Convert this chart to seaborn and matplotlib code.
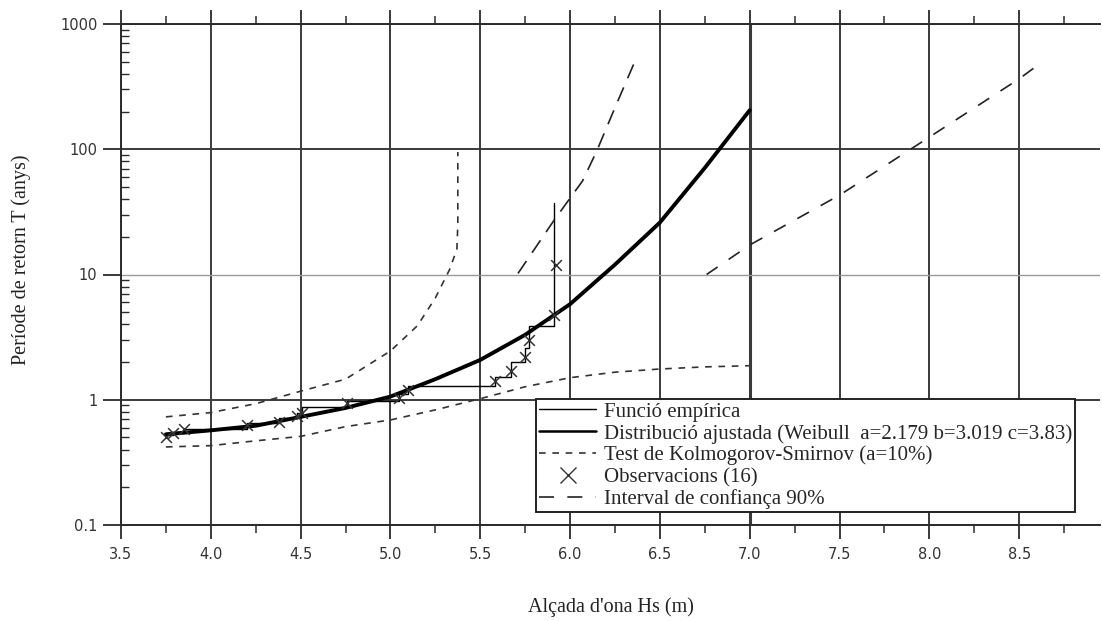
import numpy as np
import pandas as pd
import matplotlib
matplotlib.use("Agg")
import matplotlib.pyplot as plt
import seaborn as sns
from matplotlib.ticker import FixedLocator, MultipleLocator, LogLocator, NullFormatter
from matplotlib.lines import Line2D

# ---------------- data ----------------
obs_hs = [3.75, 3.79, 3.85, 4.20, 4.38, 4.48, 4.51, 4.76, 5.05, 5.10,
          5.58, 5.67, 5.75, 5.77, 5.91, 5.92]
obs_T = [0.50, 0.54, 0.58, 0.63, 0.67, 0.74, 0.79, 0.94, 1.03, 1.20,
         1.40, 1.71, 2.21, 3.00, 4.75, 11.9]

emp_hs = [3.75, 3.79, 3.85, 4.20, 4.38, 4.48, 4.51, 4.76, 5.05, 5.10,
          5.58, 5.67, 5.75, 5.77, 5.91, 5.91]
emp_T = [0.52, 0.55, 0.58, 0.65, 0.71, 0.78, 0.88, 0.97, 1.11, 1.29,
         1.53, 2.02, 2.60, 3.90, 7.75, 37.0]

fit_hs = [3.75, 4.0, 4.25, 4.5, 4.75, 5.0, 5.25, 5.5, 5.75, 6.0, 6.25, 6.5, 6.75, 7.0]
fit_T = [0.53, 0.57, 0.62, 0.73, 0.86, 1.06, 1.46, 2.08, 3.3, 5.8, 12.0, 26.0, 71.0, 205.0]

ks_up_hs = [3.75, 4.0, 4.25, 4.5, 4.75, 5.0, 5.15, 5.25, 5.33, 5.37, 5.375, 5.375]
ks_up_T = [0.73, 0.79, 0.93, 1.17, 1.46, 2.45, 3.9, 6.5, 11.0, 16.0, 25.0, 95.0]

ks_lo_hs = [3.75, 4.0, 4.25, 4.5, 4.75, 5.0, 5.25, 5.5, 5.75, 6.0, 6.25, 6.5, 6.75, 7.0]
ks_lo_T = [0.42, 0.43, 0.47, 0.51, 0.61, 0.69, 0.83, 1.02, 1.27, 1.50, 1.66, 1.76, 1.83, 1.87]

ci_up_hs = [5.71, 5.91, 6.07, 6.15, 6.25, 6.36]
ci_up_T = [10.2, 27.0, 56.0, 98.0, 215.0, 500.0]

ci_lo_hs = [6.76, 7.0, 7.5, 8.0, 8.5, 8.63]
ci_lo_T = [10.0, 17.2, 43.0, 125.0, 365.0, 500.0]

x_ticks = [3.5, 4.0, 4.5, 5.0, 5.5, 6.0, 6.5, 7.0, 7.5, 8.0, 8.5]
x_ticklabels = ["3.5", "4.0", "4.5", "5.0", "5.5", "6.0", "6.5", "7.0", "7.5", "8.0", "8.5"]
y_ticks = [0.1, 1, 10, 100, 1000]
y_ticklabels = ["0.1", "1", "10", "100", "1000"]

labels = ["Funció empírica",
          "Distribució ajustada (Weibull  a=2.179 b=3.019 c=3.83)",
          "Test de Kolmogorov-Smirnov (a=10%)",
          "Observacions (16)",
          "Interval de confiança 90%"]

# ---------------- style ----------------
sns.set_theme(style="white")
plt.rcParams["font.family"] = ["DejaVu Sans"]
serif = "Liberation Serif"
dark = "#2b2b2b"

fig = plt.figure(figsize=(11.02, 6.21), dpi=100)
W, H = 1102, 621
ax = fig.add_axes([121 / W, 1 - 525 / H, (1100 - 121) / W, (525 - 24) / H])
ax.set_yscale("log")

# ---------------- marks ----------------
sns.lineplot(x=emp_hs, y=emp_T, ax=ax, color="black", lw=1.0,
             drawstyle="steps-post", sort=False, estimator=None)
sns.lineplot(x=fit_hs, y=fit_T, ax=ax, color="black", lw=2.8,
             sort=False, estimator=None)
sns.lineplot(x=ks_up_hs, y=ks_up_T, ax=ax, color="#333333", lw=1.2,
             sort=False, estimator=None)
ax.lines[-1].set_dashes([4, 4])
sns.lineplot(x=ks_lo_hs, y=ks_lo_T, ax=ax, color="#333333", lw=1.2,
             sort=False, estimator=None)
ax.lines[-1].set_dashes([4, 4])
sns.lineplot(x=ci_up_hs, y=ci_up_T, ax=ax, color="#222222", lw=1.2,
             sort=False, estimator=None)
ax.lines[-1].set_dashes([9, 6])
sns.lineplot(x=ci_lo_hs, y=ci_lo_T, ax=ax, color="#222222", lw=1.2,
             sort=False, estimator=None)
ax.lines[-1].set_dashes([8, 8])
sns.scatterplot(x=obs_hs, y=obs_T, ax=ax, marker="x", s=60, color="#333333",
                linewidth=1.1, zorder=5)

# ---------------- axes ----------------
ax.set_xlim(3.5, 8.95)
ax.set_ylim(0.1, 1000)
ax.xaxis.set_major_locator(FixedLocator(x_ticks))
ax.set_xticklabels(x_ticklabels)
ax.xaxis.set_minor_locator(MultipleLocator(0.25))
ax.yaxis.set_major_locator(FixedLocator(y_ticks))
ax.set_yticklabels(y_ticklabels)
ax.yaxis.set_minor_locator(LogLocator(base=10, subs=np.arange(2, 10)))
ax.yaxis.set_minor_formatter(NullFormatter())

ax.tick_params(axis="x", which="major", direction="out", length=10, width=1.3,
               color=dark, top=True, bottom=True, labeltop=False,
               labelsize=10.5, labelcolor="#333333", pad=6)
ax.tick_params(axis="x", which="minor", direction="out", length=6, width=1.1,
               color=dark, top=True, bottom=True)
ax.tick_params(axis="y", which="major", direction="out", length=13, width=1.3,
               color=dark, left=True, right=False, labelsize=10.5,
               labelcolor="#333333", pad=4)
ax.tick_params(axis="y", which="minor", direction="in", length=6, width=1.0,
               color=dark, left=True, right=False)

ax.grid(True, which="major", axis="both", color="#3a3a3a", lw=1.4)
ax.grid(False, which="minor")
yt = ax.yaxis.get_major_ticks()
yt[2].gridline.set_color("#9a9a9a")
yt[2].gridline.set_linewidth(1.0)
xt = ax.xaxis.get_major_ticks()
xt[7].gridline.set_linewidth(2.2)

for side in ["top", "bottom", "left"]:
    ax.spines[side].set_color(dark)
    ax.spines[side].set_linewidth(1.4)
ax.spines["right"].set_visible(False)

ax.set_xlabel("Alçada d'ona Hs (m)", fontfamily=serif, fontsize=14.5, color="#222222")
ax.xaxis.set_label_coords(0.5, -0.145)
ax.set_ylabel("Període de retorn T (anys)", fontfamily=serif, fontsize=14.5,
              color="#222222", va="center")
ax.yaxis.set_label_coords(-0.102, 0.53)

# ---------------- legend ----------------
handles = [
    Line2D([], [], color="black", lw=1.0),
    Line2D([], [], color="black", lw=1.8),
    Line2D([], [], color="#333333", lw=1.2, dashes=[4, 4]),
    Line2D([], [], color="#333333", lw=0, marker="x", markersize=11, markeredgewidth=1.0),
    Line2D([], [], color="#222222", lw=1.2, dashes=[9, 8]),
]
leg = ax.legend(handles, labels, loc="upper left",
                bbox_to_anchor=(536 / W, 1 - 399 / H), bbox_transform=fig.transFigure,
                prop={"family": serif, "size": 15}, frameon=True, fancybox=False,
                shadow=False, borderpad=0.15, labelspacing=0.1, handlelength=2.75,
                handletextpad=0.35, borderaxespad=0)
leg.get_frame().set_edgecolor("#222222")
leg.get_frame().set_linewidth(1.4)
leg.get_frame().set_facecolor("white")
leg.get_frame().set_alpha(1)
leg.set_zorder(10)

fig.savefig("out.png", dpi=100, facecolor="white")
